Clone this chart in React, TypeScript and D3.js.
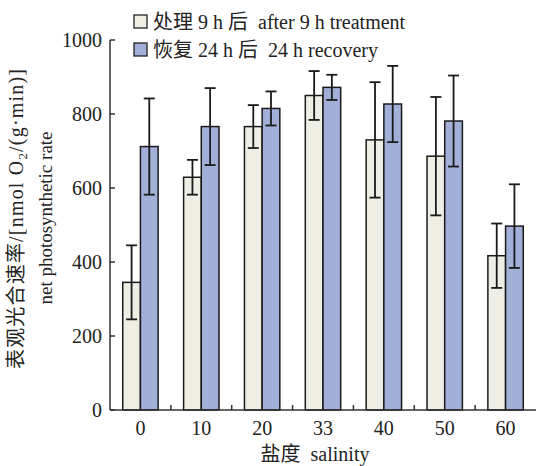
import * as d3 from "d3";

const salinity = ["0", "10", "20", "33", "40", "50", "60"];
const seriesKeys = ["treat", "recover"];
const treatMean = [345, 629, 766, 850, 730, 686, 417];
const treatErr = [100, 47, 58, 66, 156, 160, 87];
const recoverMean = [712, 766, 815, 872, 827, 781, 497];
const recoverErr = [130, 104, 46, 34, 103, 123, 113];
const yTicks = [0, 200, 400, 600, 800, 1000];
const legendLabels = ["处理 9 h 后\u00a0\u00a0after 9 h treatment", "恢复 24 h 后\u00a0\u00a024 h recovery"];

const W = 536;
const H = 466;
const FONT = "'Liberation Serif', 'Noto Sans CJK SC', serif";
const fills: Record<string, string> = { treat: "#efeee4", recover: "#a2afd8" };

export default function App() {
  const x = d3.scaleBand<string>().domain(salinity).range([110, 536]).padding(0);
  const xSub = d3
    .scaleBand<string>()
    .domain(seriesKeys)
    .range([0, x.bandwidth()])
    .paddingInner(0)
    .paddingOuter(0.72);
  const y = d3.scaleLinear().domain([0, 1000]).range([410, 40]);

  const bars = salinity.flatMap((s, i) => [
    { s, key: "treat", v: treatMean[i], e: treatErr[i] },
    { s, key: "recover", v: recoverMean[i], e: recoverErr[i] },
  ]);

  const cap = 5.5;
  // minor ticks sit on band edges
  const edges = salinity.map((s) => (x(s) ?? 0) + x.bandwidth()).slice(0, -1);

  return (
    <svg
      width={W}
      height={H}
      style={{ position: "absolute", left: 0, top: 0, background: "#fff", fontFamily: FONT }}
    >
      {bars.map((b, i) => {
        const bx = (x(b.s) ?? 0) + (xSub(b.key) ?? 0);
        const cx = bx + xSub.bandwidth() / 2;
        return (
          <g key={i}>
            <rect
              x={bx}
              y={y(b.v)}
              width={xSub.bandwidth()}
              height={y(0) - y(b.v)}
              fill={fills[b.key]}
              stroke="#1a1a1a"
              strokeWidth={1.5}
            />
            <g stroke="#1a1a1a" strokeWidth={1.8}>
              <line x1={cx} x2={cx} y1={y(b.v + b.e)} y2={y(b.v - b.e)} />
              <line x1={cx - cap} x2={cx + cap} y1={y(b.v + b.e)} y2={y(b.v + b.e)} />
              <line x1={cx - cap} x2={cx + cap} y1={y(b.v - b.e)} y2={y(b.v - b.e)} />
            </g>
          </g>
        );
      })}

      {/* axes */}
      <g stroke="#333" strokeWidth={1.5} fill="none">
        <line x1={110} x2={110} y1={y(1000)} y2={y(0)} />
        <line x1={110} x2={536} y1={y(0)} y2={y(0)} />
        {yTicks.map((t) => (
          <line key={t} x1={110} x2={115} y1={y(t)} y2={y(t)} />
        ))}
        {edges.map((e, i) => (
          <line key={i} x1={e} x2={e} y1={y(0)} y2={y(0) - 5} />
        ))}
      </g>
      <g fontSize={20} fill="#222" textAnchor="end">
        {yTicks.map((t) => (
          <text key={t} x={102} y={y(t) + 7}>
            {t}
          </text>
        ))}
      </g>
      <g fontSize={20} fill="#222" textAnchor="middle">
        {salinity.map((s) => (
          <text key={s} x={(x(s) ?? 0) + x.bandwidth() / 2} y={435}>
            {s}
          </text>
        ))}
        <text x={315} y={461}>
          {"盐度\u00a0\u00a0salinity"}
        </text>
      </g>

      {/* y title */}
      <g fontSize={20} fill="#222" textAnchor="middle">
        <text transform="translate(23,219) rotate(-90)" textLength={300} lengthAdjust="spacing">
          表观光合速率/[nmol O<tspan dy={4} fontSize={13}>2</tspan>
          <tspan dy={-4}>/(g·min)]</tspan>
        </text>
        <text transform="translate(52,218) rotate(-90)" fontSize={19}>
          net photosynthetic rate
        </text>
      </g>

      {/* legend */}
      <g fontSize={20} fill="#222">
        {seriesKeys.map((k, i) => (
          <g key={k} transform={`translate(134,${15 + i * 28})`}>
            <rect width={13} height={13} fill={fills[k]} stroke="#222" strokeWidth={1.3} />
            <text x={19} y={14}>
              {legendLabels[i]}
            </text>
          </g>
        ))}
      </g>
    </svg>
  );
}
